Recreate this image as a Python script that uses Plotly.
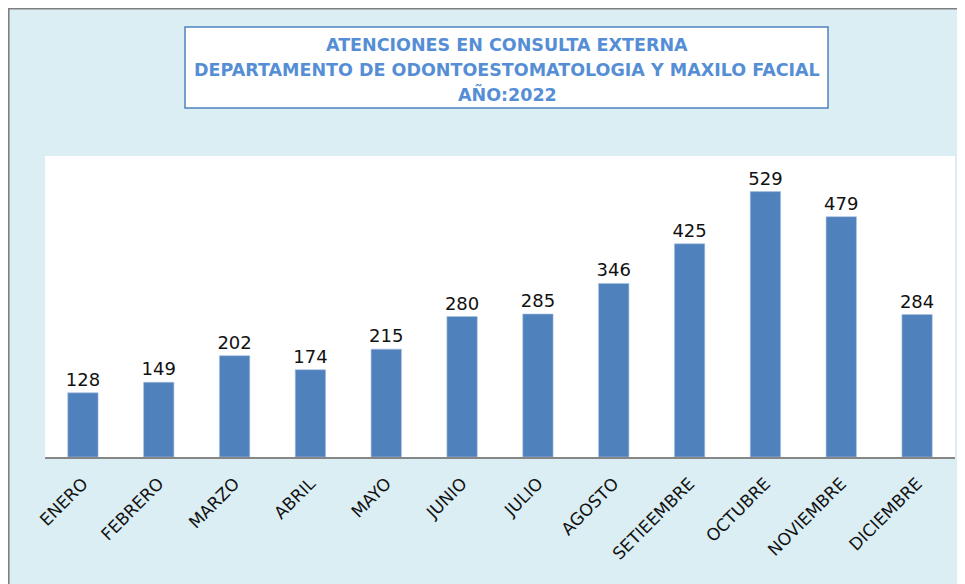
import plotly.graph_objects as go

meses = ["ENERO", "FEBRERO", "MARZO", "ABRIL", "MAYO", "JUNIO", "JULIO",
         "AGOSTO", "SETIEEMBRE", "OCTUBRE", "NOVIEMBRE", "DICIEMBRE"]
atenciones = [128, 149, 202, 174, 215, 280, 285, 346, 425, 529, 479, 284]
titulo = ["ATENCIONES EN CONSULTA EXTERNA",
          "DEPARTAMENTO DE ODONTOESTOMATOLOGIA Y MAXILO FACIAL",
          "AÑO:2022"]

# the page body adds an 8px margin, so the figure is 8px smaller than the window
W, H = 957, 576
L, R, T, B = 37, 10, 148, 127
pw, ph = W - L - R, H - T - B

def px(x):
    return (x - L) / pw

def py(y):
    return (H - B - y) / ph

fig = go.Figure(go.Bar(
    x=meses, y=atenciones,
    marker=dict(color="#4F81BD", line=dict(color="#A9C1E0", width=0.6)),
    text=atenciones, textposition="outside", cliponaxis=False,
    constraintext="none",
    textfont=dict(family="DejaVu Sans", size=18, color="#111111"),
))

shapes = [
    # gray frame lines (top and left)
    dict(type="line", xref="paper", yref="paper", x0=px(0), x1=px(W + 5), y0=py(0.5), y1=py(0.5),
         line=dict(color="#808080", width=2.2)),
    dict(type="line", xref="paper", yref="paper", x0=px(0.5), x1=px(0.5), y0=py(0), y1=py(H + 5),
         line=dict(color="#808080", width=2.2)),
    # title box
    dict(type="rect", xref="paper", yref="paper", x0=px(177), x1=px(820), y0=py(100), y1=py(19),
         fillcolor="white", line=dict(color="#4F81BD", width=1.5)),
]

annotations = []
for line, yy in zip(titulo, [37, 61.5, 86]):
    annotations.append(dict(
        text="<b>%s</b>" % line, xref="paper", yref="paper", x=px(499), y=py(yy),
        xanchor="center", yanchor="middle", showarrow=False,
        font=dict(family="DejaVu Sans", size=17.5, color="#558ED5"),
    ))

fig.update_layout(
    width=W, height=H,
    margin=dict(l=L, r=R, t=T, b=B, pad=0),
    paper_bgcolor="#DBEEF4",
    plot_bgcolor="white",
    bargap=0.6,
    showlegend=False,
    shapes=shapes,
    annotations=annotations,
    xaxis=dict(tickangle=-45, showline=True, linecolor="#868686", linewidth=2,
               ticks="", showgrid=False, ticklabelstandoff=8,
               tickfont=dict(family="DejaVu Sans", size=17, color="#111111")),
    yaxis=dict(range=[0, 600], visible=False, showgrid=False),
)

fig.write_html("out.html")
